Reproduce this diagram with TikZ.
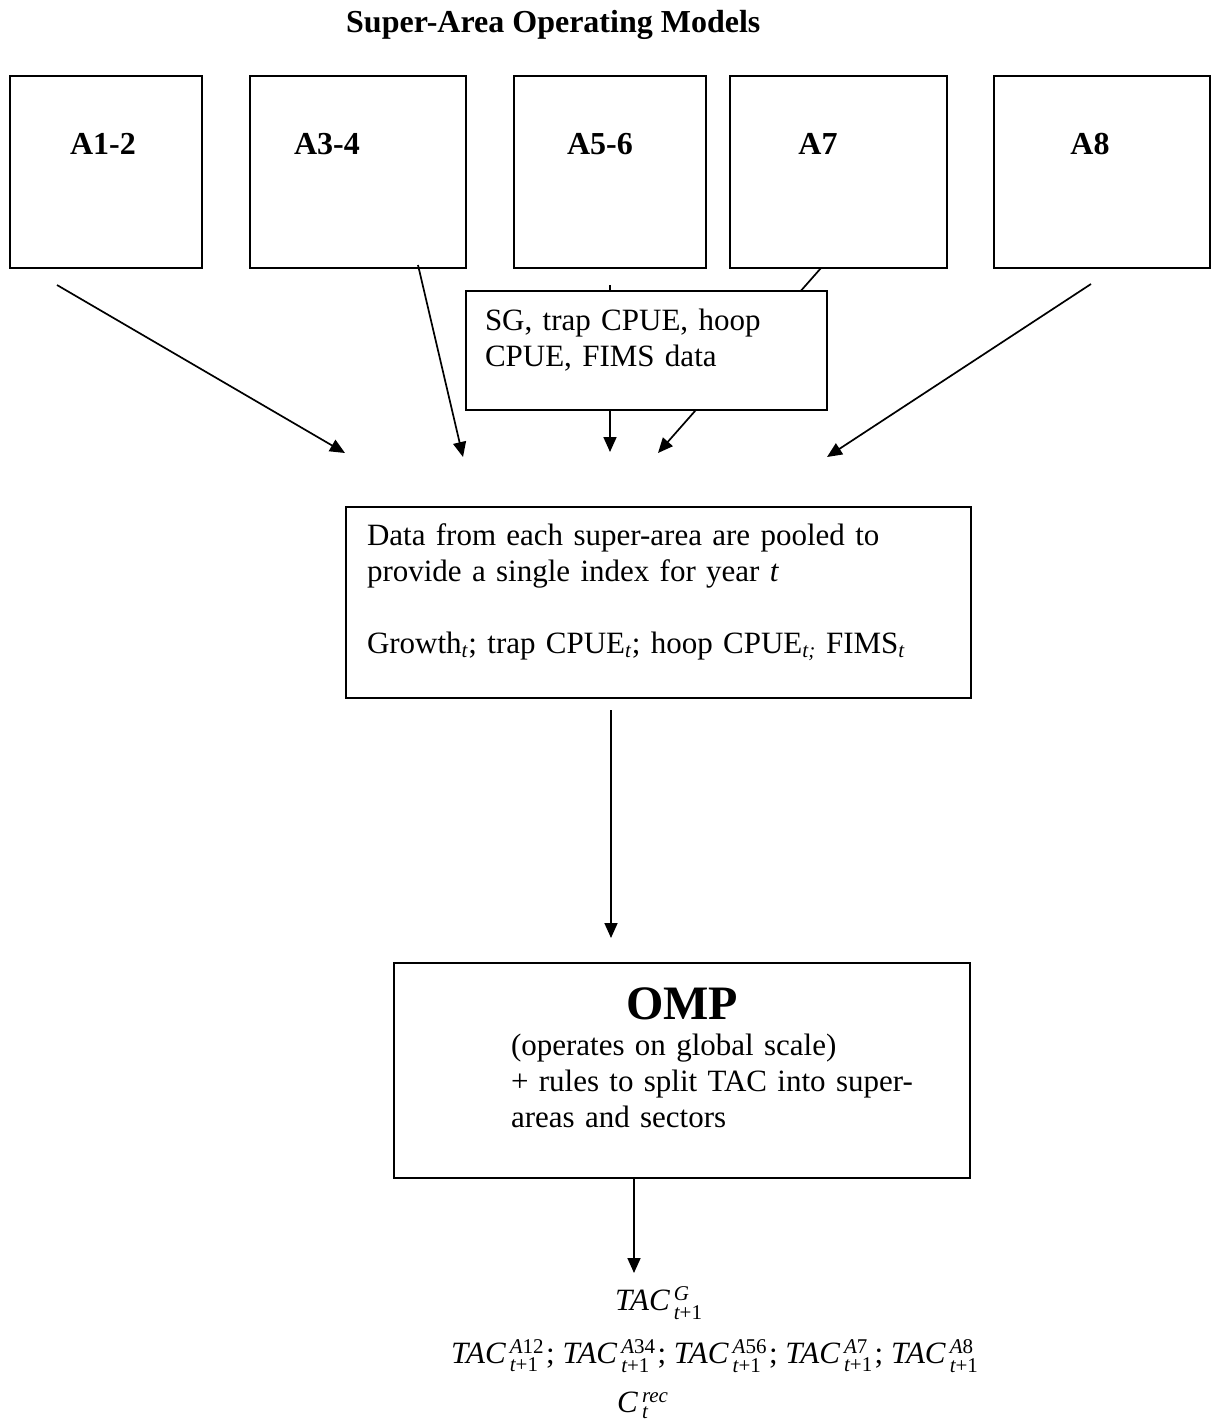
\documentclass[tikz,border=0pt]{standalone}
\usepackage{fontspec}
\setmainfont{Liberation Serif}
\usepackage{amsmath}
\usetikzlibrary{arrows.meta}
\DeclareMathSizes{31}{31}{21}{16}

\newcommand{\tacsplit}[1]{$\textit{TAC}\mkern3mu{}^{\textit{A}\text{#1}}_{\textit{t}\text{+1}}$}

\begin{document}
\begin{tikzpicture}[
  x=1pt, y=-1pt,
  areabox/.style={draw, line width=2pt, minimum width=#1, minimum height=192pt, inner sep=0pt},
  ]
  \tikzset{%
    arealabel/.style={
      anchor=base, inner sep=0pt,
      font=\fontsize{32}{36}\selectfont\bfseries,
    },
    flowbox/.style={
      draw, line width=2pt, fill=white,
      align=left, inner ysep=0pt,
      font=\fontsize{31}{36}\selectfont,
    },
    feed/.style={
      -{Triangle[length=15pt,width=13pt]},
      line width=1.7pt,
    },
    formula/.style={
      anchor=base west, inner sep=0pt,
      font=\fontsize{31}{36}\selectfont,
    },
  }
  \useasboundingbox (0,0) rectangle (1217,1425);
  %Nodes
  \node[arealabel, anchor=base west](title) at (346,32) {Super-Area Operating Models};
  \node[areabox=192pt](a12) at (106,172) {};
  \node[areabox=216pt](a34) at (358,172) {};
  \node[areabox=192pt](a56) at (610,172) {};
  \node[areabox=217pt](a7) at (838.5,172) {};
  \node[areabox=216pt](a8) at (1102,172) {};
  \node[arealabel](a12lab) at (103,154) {A1-2};
  \node[arealabel](a34lab) at (327,154) {A3-4};
  \node[arealabel](a56lab) at (600,154) {A5-6};
  \node[arealabel](a7lab) at (818,154) {A7};
  \node[arealabel](a8lab) at (1090,154) {A8};
  %Arrow ends
  \coordinate (from12) at (57,285);
  \coordinate (to12) at (345,453);
  \coordinate (from34) at (418,265);
  \coordinate (to34) at (463,457);
  \coordinate (from56) at (610,285);
  \coordinate (to56) at (610,452);
  \coordinate (from7) at (821,268);
  \coordinate (to7) at (658,453);
  \coordinate (from8) at (1091,284);
  \coordinate (to8) at (827,457);
  %Lines
  \path
    (from12) edge[feed] (to12)
    (from34) edge[feed] (to34)
    (from56) edge[feed] (to56)
    (from7) edge[feed] (to7)
    (from8) edge[feed] (to8)
    ;
  %Data boxes
  \node[flowbox, inner xsep=19pt, text width=323pt, minimum width=361pt, minimum height=119pt](sg) at (646.5,350.5)
    {SG, trap CPUE, hoop\\CPUE, FIMS data\rule[-26pt]{0pt}{0pt}};
  \node[flowbox, inner xsep=21pt, text width=583pt, minimum width=625pt, minimum height=191pt](pool) at (658.5,602.5)
    {Data from each super-area are pooled to\\
     provide a single index for year \textit{t}\\[36pt]
     Growth\textsubscript{\textit{t}}; trap CPUE\textsubscript{\textit{t}}; hoop CPUE\textsubscript{\textit{t;}} FIMS\textsubscript{\textit{t}}\rule[-28pt]{0pt}{0pt}};
  \node[flowbox, inner xsep=17pt, text width=542pt, minimum width=576pt, minimum height=215pt](omp) at (682,1070.5)
    {\makebox[\hsize]{\fontsize{48}{52}\selectfont\bfseries OMP}\\
     \hspace*{100pt}(operates on global scale)\\
     \hspace*{100pt}+ rules to split TAC into super-\\
     \hspace*{100pt}areas and sectors\rule[-25pt]{0pt}{0pt}};
  %Output
  \node[formula](tacg) at (615,1310) {$\textit{TAC}\mkern3mu{}^{\textit{G}}_{\textit{t}\text{+1}}$};
  \node[formula](tacs) at (451,1363) {\tacsplit{12}\hspace{2pt}; \tacsplit{34}\hspace{2pt}; \tacsplit{56}\hspace{2pt}; \tacsplit{7}\hspace{2pt}; \tacsplit{8}};
  \node[formula](crec) at (617,1412) {$\textit{C}\mkern3mu{}^{\textit{rec}}_{\textit{t}}$};
  \coordinate (frompool) at (611,710);
  \coordinate (toomp) at (611,938);
  \coordinate (fromomp) at (634,1178);
  \coordinate (totac) at (634,1273);
  \path
    (frompool) edge[feed] (toomp)
    (fromomp) edge[feed] (totac)
    ;
\end{tikzpicture}
\end{document}
